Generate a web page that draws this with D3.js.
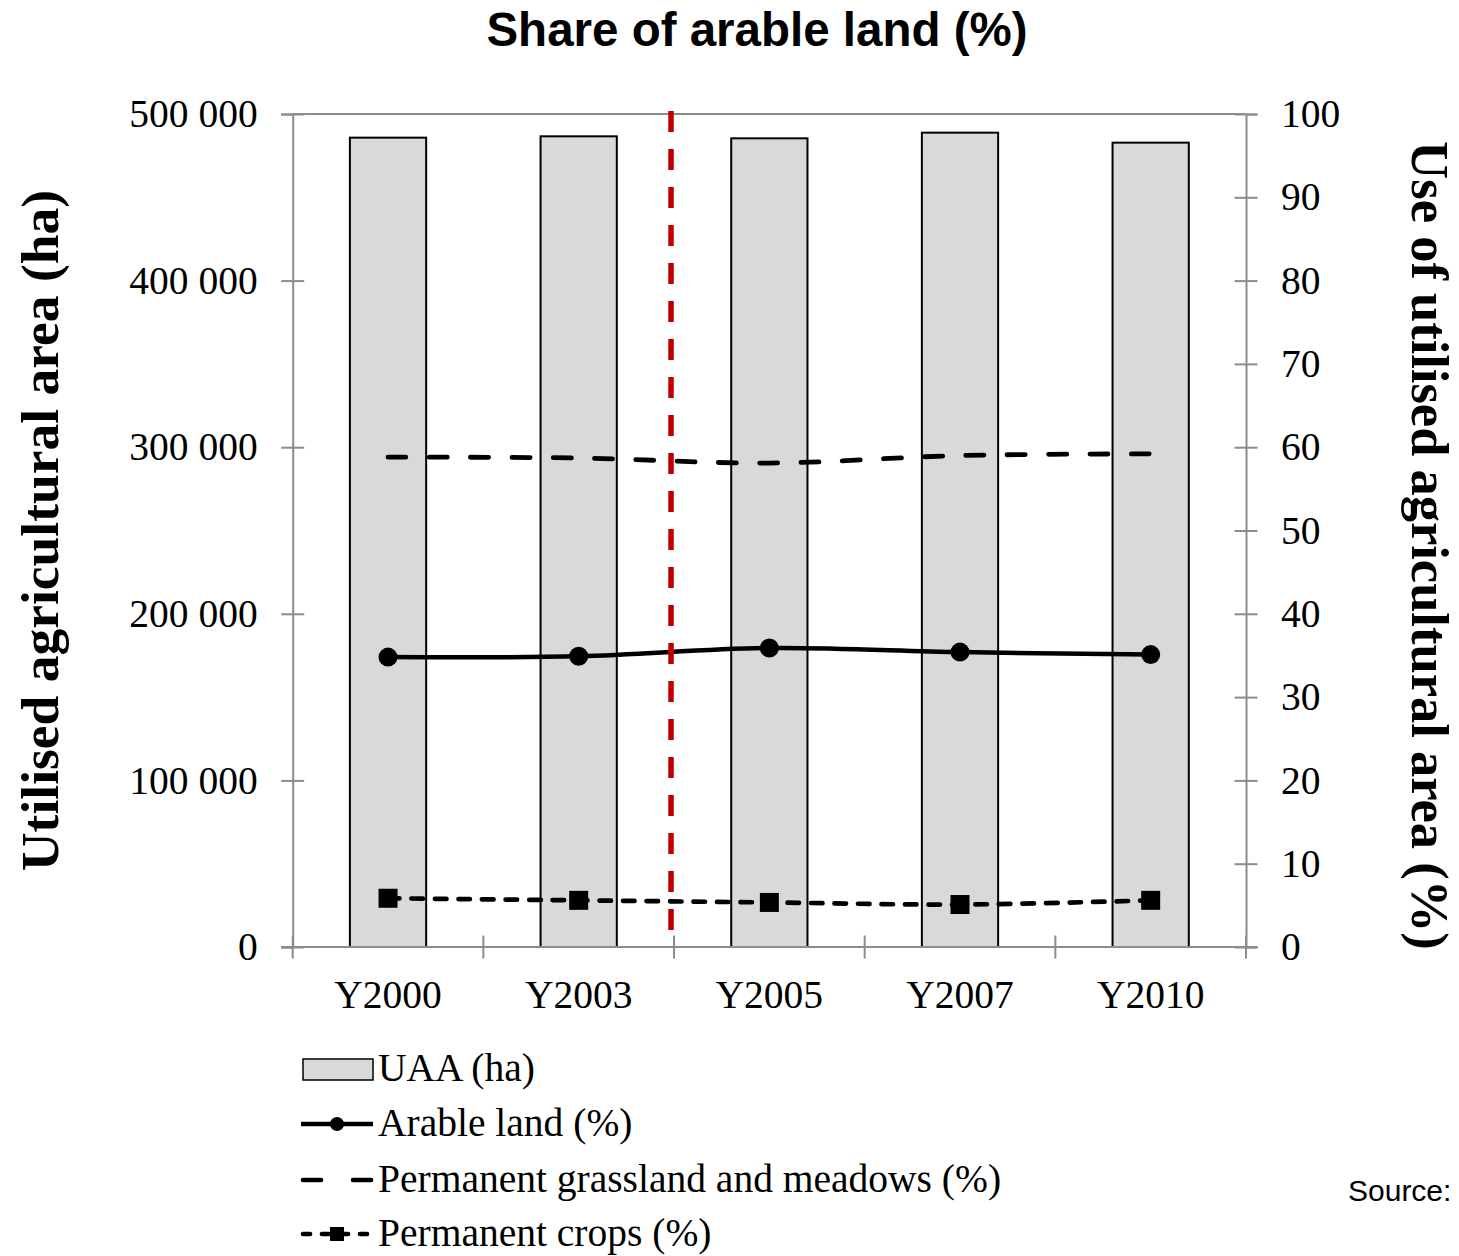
<!DOCTYPE html>
<html>
<head>
<meta charset="utf-8">
<script src="https://cdn.jsdelivr.net/npm/d3@7"></script>
<style>
  html, body { margin: 0; padding: 0; background: #fff; }
  svg { display: block; }
</style>
</head>
<body>
<svg id="chart" width="1459" height="1256"></svg>
<script>
// Years surveyed
const categories = ["Y2000", "Y2003", "Y2005", "Y2007", "Y2010"];
// Utilised agricultural area, hectares (left axis)
const uaaHa = [485800, 486600, 485400, 488800, 482800];
// Shares of UAA, percent (right axis)
const arablePct = [34.8, 34.9, 35.9, 35.4, 35.1];
const grasslandPct = [58.8, 58.7, 58.1, 59.0, 59.2];
const permCropsPct = [5.85, 5.6, 5.35, 5.1, 5.6];
// Axis ticks
const leftTicks = [0, 100000, 200000, 300000, 400000, 500000];
const rightTicks = [0, 10, 20, 30, 40, 50, 60, 70, 80, 90, 100];
// The methodology break falls before this survey year
const breakBefore = "Y2005";

const svg = d3.select("#chart");
const serif = "'Liberation Serif', 'Times New Roman', serif";
const sans = "'Liberation Sans', Arial, sans-serif";
const axisGrey = "#8c8c8c";
const tickFont = 39.5;

const plot = { left: 292.7, right: 1246, top: 114, bottom: 947 };
const tick = 11.5;

const x = d3.scaleBand().domain(categories)
  .range([plot.left, plot.right]).paddingInner(0.6).paddingOuter(0.3);
const step = x.step();
const cx = c => x(c) + x.bandwidth() / 2;
const boundary = i => plot.left + i * step;

const yL = d3.scaleLinear().domain([0, 500000]).range([plot.bottom, plot.top]);
const yR = d3.scaleLinear().domain([0, 100]).range([plot.bottom, plot.top]);

// Title
svg.append("text").attr("x", 757).attr("y", 46)
  .attr("text-anchor", "middle").attr("font-family", sans)
  .attr("font-weight", "bold").attr("font-size", 47.5)
  .text("Share of arable land (%)");

// Bars
svg.append("g").selectAll("rect").data(categories).join("rect")
  .attr("x", c => x(c)).attr("width", x.bandwidth())
  .attr("y", (c, i) => yL(uaaHa[i]))
  .attr("height", (c, i) => yL(0) - yL(uaaHa[i]))
  .attr("fill", "#d9d9d9").attr("stroke", "#000").attr("stroke-width", 2);

// Top frame line
svg.append("line").attr("x1", plot.left).attr("x2", plot.right)
  .attr("y1", plot.top).attr("y2", plot.top)
  .attr("stroke", axisGrey).attr("stroke-width", 2);

// Left axis
const fmt = d => d3.format(",")(d).replace(/,/g, " ");
const gL = svg.append("g").attr("transform", `translate(${plot.left},0)`)
  .call(d3.axisLeft(yL).tickValues(leftTicks).tickFormat(fmt)
    .tickSize(tick).tickPadding(23.5));
gL.select(".domain").attr("stroke", axisGrey).attr("stroke-width", 2);
gL.selectAll(".tick line").attr("x1", tick).attr("stroke", axisGrey).attr("stroke-width", 2);
gL.selectAll(".tick text").attr("font-family", serif).attr("font-size", tickFont).attr("fill", "#000");

// Right axis
const gR = svg.append("g").attr("transform", `translate(${plot.right},0)`)
  .call(d3.axisRight(yR).tickValues(rightTicks).tickSize(tick).tickPadding(23.5));
gR.select(".domain").attr("stroke", axisGrey).attr("stroke-width", 2);
gR.selectAll(".tick line").attr("x1", -tick).attr("stroke", axisGrey).attr("stroke-width", 2);
gR.selectAll(".tick text").attr("font-family", serif).attr("font-size", tickFont).attr("fill", "#000");

// Bottom axis with ticks on category boundaries
const gB = svg.append("g");
gB.append("line").attr("x1", plot.left - tick).attr("x2", plot.right + tick)
  .attr("y1", plot.bottom).attr("y2", plot.bottom)
  .attr("stroke", axisGrey).attr("stroke-width", 2);
gB.selectAll("line.t").data(d3.range(categories.length + 1)).join("line")
  .attr("class", "t")
  .attr("x1", i => boundary(i)).attr("x2", i => boundary(i))
  .attr("y1", plot.bottom - tick).attr("y2", plot.bottom + tick)
  .attr("stroke", axisGrey).attr("stroke-width", 2);
gB.selectAll("text").data(categories).join("text")
  .attr("x", c => cx(c)).attr("y", 1008)
  .attr("text-anchor", "middle").attr("font-family", serif).attr("font-size", tickFont)
  .text(c => c);

// Series lines (smoothed)
const curve = d3.curveCatmullRom.alpha(0.5);
const lineR = d3.line().x(d => cx(d.c)).y(d => yR(d.v)).curve(curve);
const pts = arr => categories.map((c, i) => ({ c, v: arr[i] }));

svg.append("path").attr("d", lineR(pts(grasslandPct)))
  .attr("fill", "none").attr("stroke", "#000").attr("stroke-width", 4.8)
  .attr("stroke-linecap", "round").attr("stroke-dasharray", "18,23.3");

svg.append("path").attr("d", lineR(pts(arablePct)))
  .attr("fill", "none").attr("stroke", "#000").attr("stroke-width", 4.5);
svg.append("g").selectAll("circle").data(pts(arablePct)).join("circle")
  .attr("cx", d => cx(d.c)).attr("cy", d => yR(d.v)).attr("r", 9.5).attr("fill", "#000");

svg.append("path").attr("d", lineR(pts(permCropsPct)))
  .attr("fill", "none").attr("stroke", "#000").attr("stroke-width", 4.7)
  .attr("stroke-linecap", "round").attr("stroke-dasharray", "11.5,12");
svg.append("g").selectAll("rect").data(pts(permCropsPct)).join("rect")
  .attr("x", d => cx(d.c) - 9.5).attr("y", d => yR(d.v) - 9.5)
  .attr("width", 19).attr("height", 19).attr("fill", "#000");

// Break marker on the category boundary
const bx = boundary(categories.indexOf(breakBefore)) - 3;
svg.append("line").attr("x1", bx).attr("x2", bx)
  .attr("y1", plot.top - 3).attr("y2", plot.bottom - 4)
  .attr("stroke", "#c00000").attr("stroke-width", 5.5)
  .attr("stroke-dasharray", "21,17");

// Axis titles
svg.append("text")
  .attr("transform", `translate(58,${(plot.top + plot.bottom) / 2}) rotate(-90)`)
  .attr("text-anchor", "middle").attr("font-family", serif)
  .attr("font-weight", "bold").attr("font-size", 53.5)
  .text("Utilised agricultural area (ha)");
svg.append("text")
  .attr("transform", `translate(1412,${(plot.top + plot.bottom) / 2 + 15}) rotate(90)`)
  .attr("text-anchor", "middle").attr("font-family", serif)
  .attr("font-weight", "bold").attr("font-size", 52.5)
  .text("Use of utilised agricultural area (%)");

// Legend
const legendItems = [
  { label: "UAA (ha)", type: "bar" },
  { label: "Arable land (%)", type: "circle" },
  { label: "Permanent grassland and meadows (%)", type: "dash" },
  { label: "Permanent crops (%)", type: "square" }
];
const legendRowsY = [1069, 1124, 1180, 1234];
const lg = svg.append("g");
legendItems.forEach((it, i) => {
  const y = legendRowsY[i];
  const g = lg.append("g");
  if (it.type === "bar") {
    g.append("rect").attr("x", 303).attr("y", y - 10).attr("width", 70).attr("height", 21)
      .attr("fill", "#d9d9d9").attr("stroke", "#000").attr("stroke-width", 1.5);
  } else if (it.type === "circle") {
    g.append("line").attr("x1", 301).attr("x2", 373).attr("y1", y).attr("y2", y)
      .attr("stroke", "#000").attr("stroke-width", 4.5);
    g.append("circle").attr("cx", 337).attr("cy", y).attr("r", 7).attr("fill", "#000");
  } else if (it.type === "dash") {
    g.append("line").attr("x1", 303).attr("x2", 371).attr("y1", y).attr("y2", y)
      .attr("stroke", "#000").attr("stroke-width", 4.7).attr("stroke-linecap", "round")
      .attr("stroke-dasharray", "18,32");
  } else {
    g.append("line").attr("x1", 303).attr("x2", 371).attr("y1", y).attr("y2", y)
      .attr("stroke", "#000").attr("stroke-width", 4.7).attr("stroke-linecap", "round")
      .attr("stroke-dasharray", "7,12");
    g.append("rect").attr("x", 330).attr("y", y - 7).attr("width", 14).attr("height", 14)
      .attr("fill", "#000");
  }
  g.append("text").attr("x", 378).attr("y", y + 12)
    .attr("font-family", serif).attr("font-size", 39.5).text(it.label);
});

// Source note
svg.append("text").attr("x", 1348).attr("y", 1201)
  .attr("font-family", sans).attr("font-size", 30).text("Source:");
</script>
</body>
</html>
